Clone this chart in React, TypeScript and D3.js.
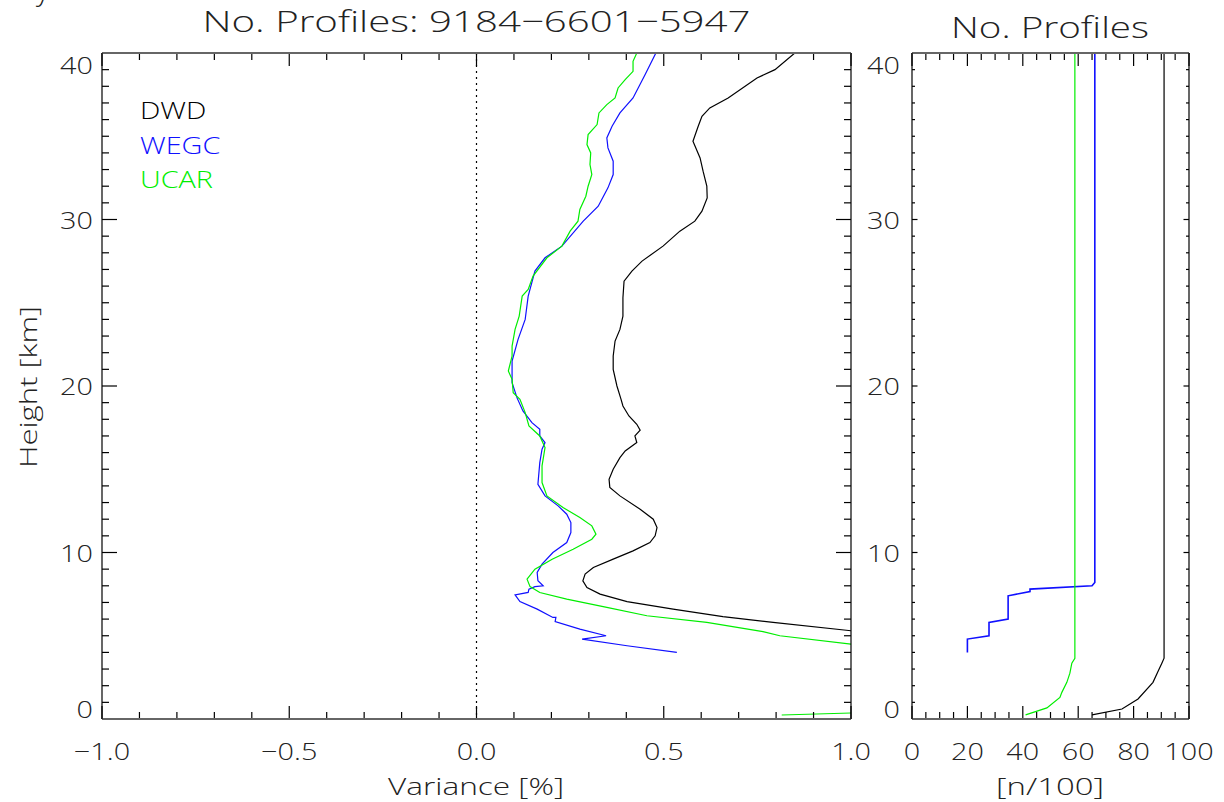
import React from "react";
import * as d3 from "d3";

// ---------- data ----------
// Left panel: variance [%] vs height [km], ordered top -> bottom
const dwdVar = [0.85,0.797,0.749,0.672,0.623,0.602,0.592,0.578,0.597,0.605,0.615,0.616,0.602,0.583,0.543,0.498,0.442,0.415,0.394,0.391,0.391,0.383,0.370,0.365,0.365,0.375,0.386,0.391,0.407,0.428,0.437,0.423,0.428,0.397,0.383,0.365,0.354,0.356,0.383,0.437,0.472,0.482,0.477,0.463,0.418,0.365,0.312,0.290,0.284,0.295,0.330,0.402,0.525,0.658,0.792,1.0,1.4,1.8];
const dwdHgt = [40,39.0,38.5,37.3,36.7,36.2,35.6,34.7,33.7,32.9,32.0,31.3,30.5,29.9,29.3,28.4,27.5,26.9,26.3,25.3,24.2,23.4,22.7,21.8,21.0,20.0,19.2,18.8,18.2,17.7,17.35,17.0,16.6,16.1,15.7,15.0,14.4,13.9,13.4,12.6,12.0,11.5,11.0,10.6,10.1,9.6,9.1,8.7,8.3,7.9,7.5,7.05,6.6,6.15,5.8,5.3,4.6,3.5];

const wegcVar = [0.479,0.450,0.418,0.383,0.362,0.348,0.351,0.365,0.365,0.351,0.325,0.285,0.228,0.183,0.156,0.138,0.130,0.111,0.095,0.095,0.108,0.124,0.148,0.169,0.169,0.183,0.175,0.169,0.164,0.183,0.218,0.241,0.252,0.252,0.241,0.204,0.175,0.162,0.164,0.178,0.156,0.140,0.138,0.103,0.116,0.162,0.204,0.212,0.210,0.276,0.346,0.282,0.402,0.535];
const wegcHgt = [40,38.7,37.3,36.4,35.6,34.9,34.3,33.5,32.7,31.9,30.8,29.9,28.4,27.7,26.9,25.4,24.0,22.8,21.5,20.2,19.3,18.5,17.8,17.4,17.0,16.6,16.2,15.4,14.1,13.4,12.8,12.3,11.8,11.2,10.6,10.0,9.3,8.8,8.3,8.0,7.95,7.8,7.6,7.45,7.05,6.6,6.1,6.1,5.85,5.4,5.0,4.8,4.4,4.0];

const ucarVar = [0.428,0.418,0.418,0.397,0.378,0.370,0.348,0.327,0.322,0.298,0.295,0.305,0.303,0.308,0.298,0.292,0.276,0.271,0.250,0.228,0.188,0.151,0.138,0.122,0.114,0.103,0.095,0.095,0.085,0.095,0.098,0.116,0.130,0.140,0.169,0.183,0.175,0.175,0.188,0.231,0.276,0.308,0.319,0.308,0.258,0.202,0.156,0.135,0.143,0.169,0.241,0.348,0.455,0.615,0.765,0.810,1.0,1.4,1.6,1.3,1.0,0.815];
const ucarHgt = [40,39.5,38.9,38.4,37.9,37.3,36.9,36.4,35.7,35.1,34.5,34.0,33.3,32.7,32.0,31.4,30.6,29.9,29.3,28.4,27.7,26.6,25.8,25.4,24.2,23.4,22.4,21.8,20.9,20.4,19.6,19.2,18.4,17.6,17.0,16.3,15.2,14.2,13.4,12.7,12.1,11.6,11.1,10.8,10.2,9.6,9.0,8.4,7.95,7.6,7.2,6.7,6.2,5.8,5.25,5.0,4.5,3.5,2.0,0.5,0.36,0.24];

// Right panel: number of profiles [n/100] vs height [km], bottom -> top
const dwdCount = [65,75.8,81.6,87,88.8,90.2,91,91];
const dwdCountHgt = [0.25,0.6,1.2,2.2,2.85,3.35,3.65,40];
const wegcCount = [20,20,27.8,27.8,34.7,34.7,42.6,42.6,65,66,66];
const wegcCountHgt = [4.0,4.8,5.0,5.8,6.0,7.4,7.65,7.8,8.0,8.2,40];
const ucarCount = [41,48.7,53.4,54.1,55.9,57,57.7,58.8,58.8];
const ucarCountHgt = [0.25,0.67,1.3,1.6,2.2,2.75,3.35,3.65,40];

const seriesNames = ["DWD", "WEGC", "UCAR"];
const seriesColors = ["#000000", "#1010ff", "#00ee00"];
const xTicksLeft = [-1.0, -0.5, 0.0, 0.5, 1.0];
const xTickLabelsLeft = ["\u22121.0", "\u22120.5", "0.0", "0.5", "1.0"];
const xTicksRight = [0, 20, 40, 60, 80, 100];
const yTicks = [0, 10, 20, 30, 40];
const titleLeft = "No. Profiles: 9184\u22126601\u22125947";
const titleRight = "No. Profiles";

const FONT = "'Open Sans', Lato, 'DejaVu Sans', sans-serif";
const SX = 1.2; // horizontal stretch to mimic the wide vector font

const zip = (a: number[], b: number[]) => a.map((v, i) => [v, b[i]] as [number, number]);

export default function App() {
  const W = 1224, H = 802;
  const top = 53, bottom = 719;
  const L = { x0: 102, x1: 851 };
  const R = { x0: 912, x1: 1189 };

  const y = d3.scaleLinear().domain([0, 40]).range([bottom, top]);
  const xL = d3.scaleLinear().domain([-1, 1]).range([L.x0, L.x1]);
  const xR = d3.scaleLinear().domain([0, 100]).range([R.x0, R.x1]);

  const lineL = d3.line<[number, number]>().x(d => xL(d[0])).y(d => y(d[1]));
  const lineR = d3.line<[number, number]>().x(d => xR(d[0])).y(d => y(d[1]));

  const leftSeries = [zip(dwdVar, dwdHgt), zip(wegcVar, wegcHgt), zip(ucarVar, ucarHgt)];
  const rightSeries = [zip(dwdCount, dwdCountHgt), zip(wegcCount, wegcCountHgt), zip(ucarCount, ucarCountHgt)];

  const tickColor = "#000";
  const labelFill = "#222";

  const yMinor = d3.range(0, 41, 1);
  const xMinorL = d3.range(-1, 1.0001, 0.1);
  const xMinorR = d3.range(0, 100.001, 5);

  const isMajor = (v: number, step: number) => Math.abs(v / step - Math.round(v / step)) < 1e-6;

  const frame = (x0: number, x1: number, yTickMaj: number, yTickMin: number,
                 xs: number[], xScale: (v: number) => number, xStep: number) => (
    <g>
      {yMinor.map(v => {
        const len = isMajor(v, 10) ? yTickMaj : yTickMin;
        return (
          <g key={"y" + v}>
            <line x1={x0} x2={x0 + len} y1={y(v)} y2={y(v)} stroke={tickColor} strokeWidth={1.2} />
            <line x1={x1} x2={x1 - len} y1={y(v)} y2={y(v)} stroke={tickColor} strokeWidth={1.2} />
          </g>
        );
      })}
      {xs.map((v, i) => {
        const len = isMajor(v, xStep) ? 13 : 7;
        const px = xScale(v);
        return (
          <g key={"x" + i}>
            <line x1={px} x2={px} y1={bottom} y2={bottom - len} stroke={tickColor} strokeWidth={1.2} />
            <line x1={px} x2={px} y1={top} y2={top + len} stroke={tickColor} strokeWidth={1.2} />
          </g>
        );
      })}
      <line x1={x0} x2={x1} y1={bottom} y2={bottom} stroke="#666" strokeWidth={2} />
      <line x1={x0} x2={x1} y1={top} y2={top} stroke="#666" strokeWidth={2} />
      <line x1={x0} x2={x0} y1={top} y2={bottom} stroke="#000" strokeWidth={1.2} />
      <line x1={x1} x2={x1} y1={top} y2={bottom} stroke="#000" strokeWidth={1.2} />
    </g>
  );

  const yLabelY = (v: number) => (v === 40 ? y(v) + 12 : v === 0 ? y(v) - 10 : y(v));

  // stretched text helper
  const T = (props: { x: number; y: number; anchor?: string; fill?: string; size?: number; baseline?: string; children: any }) => (
    <text transform={`translate(${props.x},${props.y}) scale(${SX},1)`}
      fontSize={props.size ?? 24} fontWeight={300} fill={props.fill ?? labelFill}
      textAnchor={props.anchor ?? "start"} dominantBaseline={props.baseline ?? "auto"}>{props.children}</text>
  );

  return (
    <svg width={W} height={H} viewBox={`0 0 ${W} ${H}`}
      style={{ position: "absolute", left: 0, top: 0, background: "#fff" }}
      fontFamily={FONT}>
      <defs>
        <clipPath id="clipL"><rect x={L.x0} y={top} width={L.x1 - L.x0} height={bottom - top} /></clipPath>
        <clipPath id="clipR"><rect x={R.x0} y={top} width={R.x1 - R.x0} height={bottom - top} /></clipPath>
      </defs>
      <rect x={0} y={0} width={W} height={H} fill="#fff" />

      {/* cut-off glyph from a line above the chart */}
      <text x={36} y={0} fontSize={30} fontWeight={300} fill={labelFill}>y</text>

      {/* titles */}
      <text x={476.5} y={32} fontSize={30} fontWeight={300} fill={labelFill} textAnchor="middle"
        textLength={548} lengthAdjust="spacingAndGlyphs">{titleLeft}</text>
      <text x={1050} y={38} fontSize={30} fontWeight={300} fill={labelFill} textAnchor="middle"
        textLength={198} lengthAdjust="spacingAndGlyphs">{titleRight}</text>

      {/* zero line */}
      <line x1={xL(0)} x2={xL(0)} y1={top} y2={bottom} stroke="#000" strokeWidth={1.2} strokeDasharray="2,4" />

      <g clipPath="url(#clipL)">
        {leftSeries.map((s, i) => (
          <path key={i} d={lineL(s) || ""} fill="none" stroke={seriesColors[i]} strokeWidth={1.2} />
        ))}
      </g>
      <g clipPath="url(#clipR)">
        {rightSeries.map((s, i) => (
          <path key={i} d={lineR(s) || ""} fill="none" stroke={seriesColors[i]} strokeWidth={i === 1 ? 1.6 : 1.2} />
        ))}
      </g>

      {frame(L.x0, L.x1, 15, 7, xMinorL, xL, 0.5)}
      {frame(R.x0, R.x1, 5.5, 3, xMinorR, xR, 20)}

      {/* legend */}
      {seriesNames.map((n, i) => (
        <T key={n} x={140} y={119 + i * 34.5} fill={seriesColors[i]}>{n}</T>
      ))}

      {/* y tick labels */}
      {yTicks.map(v => (
        <T key={"ly" + v} x={93} y={yLabelY(v)} anchor="end" baseline="central">{v}</T>
      ))}
      {yTicks.map(v => (
        <T key={"ry" + v} x={900} y={yLabelY(v)} anchor="end" baseline="central">{v}</T>
      ))}

      {/* x tick labels */}
      {xTicksLeft.map((v, i) => (
        <T key={"lx" + i} x={xL(v)} y={760} anchor="middle">{xTickLabelsLeft[i]}</T>
      ))}
      {xTicksRight.map(v => (
        <T key={"rx" + v} x={xR(v)} y={760} anchor="middle">{v}</T>
      ))}

      {/* axis titles */}
      <text x={476} y={795} fontSize={24} fontWeight={300} fill={labelFill} textAnchor="middle"
        textLength={176} lengthAdjust="spacingAndGlyphs">Variance [%]</text>
      <text x={1050} y={795} fontSize={24} fontWeight={300} fill={labelFill} textAnchor="middle"
        textLength={108} lengthAdjust="spacingAndGlyphs">[n/100]</text>
      <text transform={`translate(37,387) rotate(-90)`} fontSize={24} fontWeight={300} fill={labelFill}
        textAnchor="middle" textLength={162} lengthAdjust="spacingAndGlyphs">Height [km]</text>
    </svg>
  );
}
